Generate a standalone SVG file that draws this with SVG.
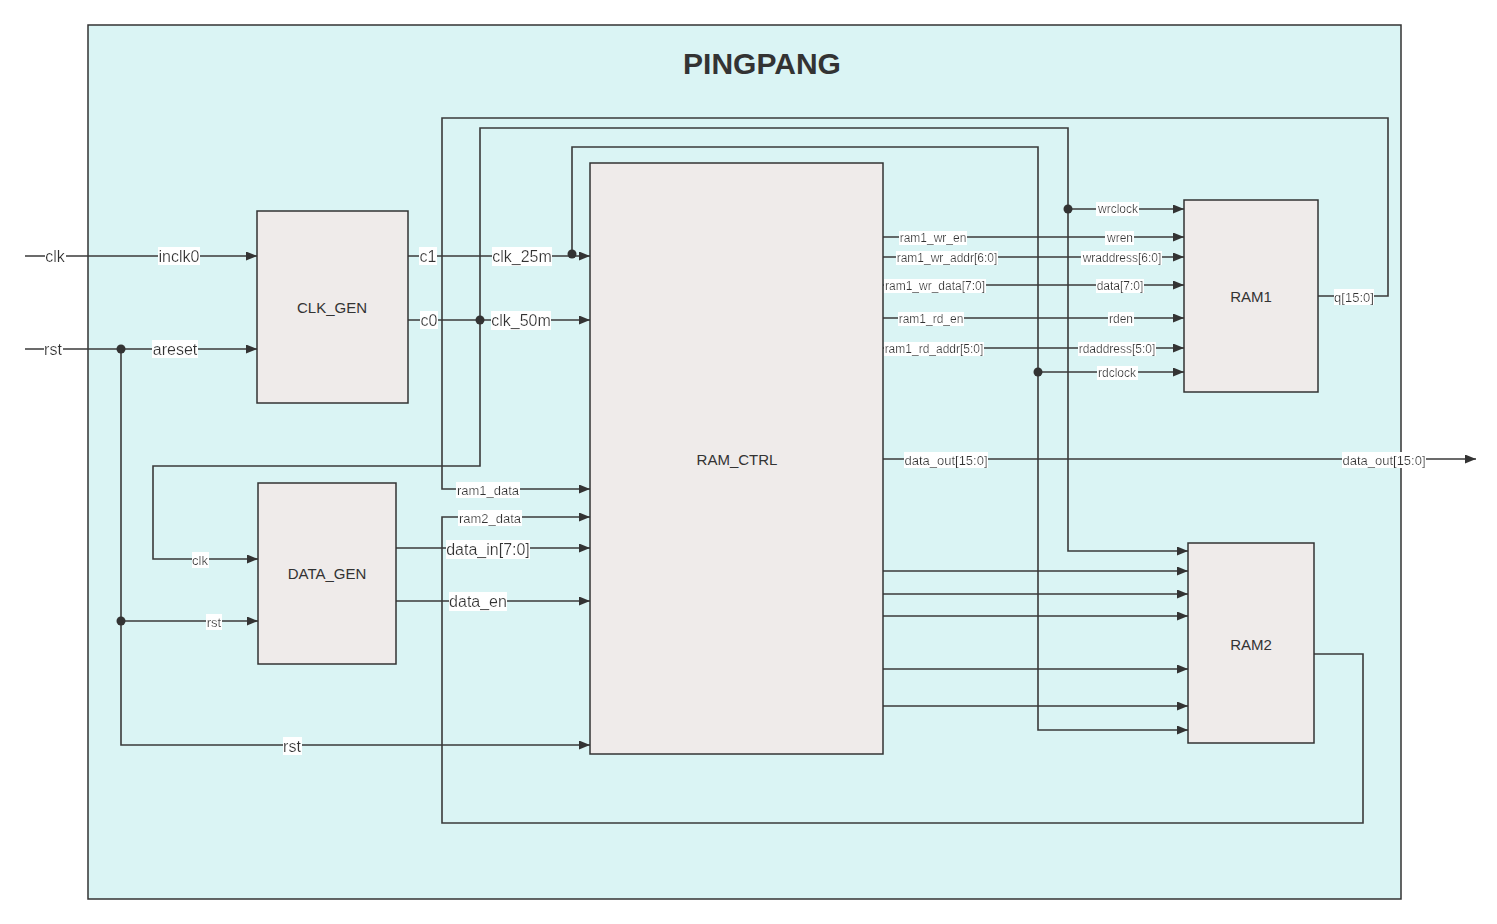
<svg xmlns="http://www.w3.org/2000/svg" width="1497" height="924" viewBox="0 0 1497 924">
<style>
.box{fill:#efebea;stroke:#333;stroke-width:1.5}
.w{fill:none;stroke:#3a3a3a;stroke-width:1.6}
.a{marker-end:url(#arr)}
.dot{fill:#333}
text{font-family:"Liberation Sans",Arial,sans-serif;fill:#333}
.nl{font-size:15px;text-anchor:middle;dominant-baseline:central}
.l16{font-size:16px;text-anchor:middle;dominant-baseline:central;filter:url(#bg)}
.l13{font-size:13px;text-anchor:middle;dominant-baseline:central;filter:url(#bg)}
.l12{font-size:12px;text-anchor:middle;dominant-baseline:central;filter:url(#bg)}
</style>
<defs>
<marker id="arr" markerUnits="userSpaceOnUse" markerWidth="12" markerHeight="9" refX="11" refY="4.5" orient="auto">
<path d="M0,0 L11,4.5 L0,9 z" fill="#333"/>
</marker>
<filter id="bg" x="0" y="0" width="1" height="1">
<feFlood flood-color="#ffffff"/>
<feComposite in="SourceGraphic" operator="over"/>
</filter>
</defs>
<rect width="1497" height="924" fill="#fff"/>
<g id="pingpang">
<rect x="88" y="25" width="1313" height="874" fill="#daf4f4" stroke="#333" stroke-width="1.5"/>
<text x="762" y="63" font-size="30" font-weight="bold" text-anchor="middle" dominant-baseline="central">PINGPANG</text>
</g>
<g id="connectors">
<path class="w a" d="M25,256 H257"/>
<path class="w a" d="M25,349 H257"/>
<path class="w a" d="M121,349 V745 H590"/>
<path class="w a" d="M121,621 H258"/>
<path class="w a" d="M408,256 H590"/>
<path class="w a" d="M408,320 H590"/>
<path class="w a" d="M572,254 V147 H1038 V730 H1188"/>
<path class="w a" d="M1038,372 H1184"/>
<path class="w a" d="M480,320 V128 H1068 V551 H1188"/>
<path class="w a" d="M1068,209 H1184"/>
<path class="w a" d="M480,320 V466 H153 V559 H258"/>
<path class="w a" d="M1318,296 H1388 V118 H442 V489 H590"/>
<path class="w a" d="M1314,654 H1363 V823 H442 V517 H590"/>
<path class="w a" d="M396,548 H590"/>
<path class="w a" d="M396,601 H590"/>
<path class="w a" d="M883,237 H1184"/>
<path class="w a" d="M883,257 H1184"/>
<path class="w a" d="M883,285 H1184"/>
<path class="w a" d="M883,318 H1184"/>
<path class="w a" d="M883,348 H1184"/>
<path class="w a" d="M883,459 H1476"/>
<path class="w a" d="M883,571 H1188"/>
<path class="w a" d="M883,594 H1188"/>
<path class="w a" d="M883,616 H1188"/>
<path class="w a" d="M883,669 H1188"/>
<path class="w a" d="M883,706 H1188"/>
<circle class="dot" cx="121" cy="349" r="4.5"/>
<circle class="dot" cx="121" cy="621" r="4.5"/>
<circle class="dot" cx="480" cy="320" r="4.5"/>
<circle class="dot" cx="572" cy="254" r="4.5"/>
<circle class="dot" cx="1068" cy="209" r="4.5"/>
<circle class="dot" cx="1038" cy="372" r="4.5"/>
<text class="l16" x="55" y="256">clk</text>
<text class="l16" x="53" y="349">rst</text>
<text class="l16" x="179" y="256">inclk0</text>
<text class="l16" x="175" y="349">areset</text>
<text class="l16" x="428" y="256">c1</text>
<text class="l16" x="429" y="320">c0</text>
<text class="l16" x="522" y="256">clk_25m</text>
<text class="l16" x="521" y="320">clk_50m</text>
<text class="l13" x="200" y="560">clk</text>
<text class="l13" x="214" y="622">rst</text>
<text class="l13" x="488" y="490">ram1_data</text>
<text class="l13" x="490" y="518">ram2_data</text>
<text class="l16" x="488" y="549">data_in[7:0]</text>
<text class="l16" x="478" y="601">data_en</text>
<text class="l16" x="292" y="746">rst</text>
<text class="l12" x="933" y="238">ram1_wr_en</text>
<text class="l12" x="947" y="258">ram1_wr_addr[6:0]</text>
<text class="l12" x="935" y="286">ram1_wr_data[7:0]</text>
<text class="l12" x="931" y="319">ram1_rd_en</text>
<text class="l12" x="934" y="349">ram1_rd_addr[5:0]</text>
<text class="l12" x="1118" y="209">wrclock</text>
<text class="l12" x="1120" y="238">wren</text>
<text class="l12" x="1122" y="258">wraddress[6:0]</text>
<text class="l12" x="1120" y="286">data[7:0]</text>
<text class="l12" x="1121" y="319">rden</text>
<text class="l12" x="1117" y="349">rdaddress[5:0]</text>
<text class="l12" x="1117" y="373">rdclock</text>
<text class="l13" x="1354" y="297">q[15:0]</text>
<text class="l13" x="946" y="460">data_out[15:0]</text>
<text class="l13" x="1384" y="460">data_out[15:0]</text>
</g>
<g id="clk_gen">
<rect class="box" x="257" y="211" width="151" height="192"/>
<text class="nl" x="332" y="307">CLK_GEN</text>
</g>
<g id="data_gen">
<rect class="box" x="258" y="483" width="138" height="181"/>
<text class="nl" x="327" y="573">DATA_GEN</text>
</g>
<g id="ram_ctrl">
<rect class="box" x="590" y="163" width="293" height="591"/>
<text class="nl" x="737" y="459">RAM_CTRL</text>
</g>
<g id="ram1">
<rect class="box" x="1184" y="200" width="134" height="192"/>
<text class="nl" x="1251" y="296">RAM1</text>
</g>
<g id="ram2">
<rect class="box" x="1188" y="543" width="126" height="200"/>
<text class="nl" x="1251" y="644">RAM2</text>
</g>
</svg>
